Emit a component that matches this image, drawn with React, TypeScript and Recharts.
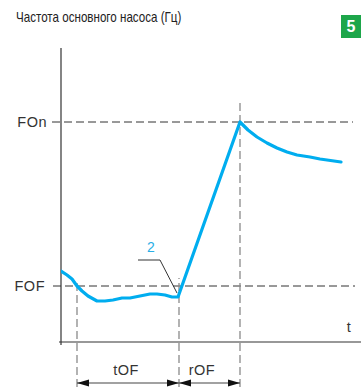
import React from "react";
import { LineChart, Line, XAxis, YAxis, ReferenceLine, ReferenceDot } from "recharts";

// time (px units from the y axis) and pump frequency
const time = [0, 6, 11, 16, 21, 27, 36, 44, 52, 61, 69, 79, 89, 96, 104, 111, 117, 179, 187, 196, 206, 216, 226, 236, 249, 259, 280];
const freq = [71, 67, 63, 56, 51, 46, 41, 41, 42, 44, 44, 46, 48, 48, 47, 45, 45, 220, 212, 205, 199, 194, 190, 187, 185, 183, 180];

const FOF = 56;
const FON = 220;
const T_START = 16; // start of tOF
const T_MIN = 118; // end of tOF / start of rOF
const T_PEAK = 179; // end of rOF

const title = "Частота основного насоса (Гц)";
const badge = "5";

const data = time.map((t, i) => ({ t, f: freq[i] }));

const BLUE = "#00adef";
const DARK = "#333333";
const GRAY = "#8a8a8a";
const FONT = "'Liberation Sans', Arial, sans-serif";

const ArrowLine = (props: any) => {
  const { x1, y1, x2 } = props;
  const len = 12;
  const hw = 3.5;
  return (
    <g>
      <line x1={x1} y1={y1} x2={x2} y2={y1} stroke="#444" strokeWidth={1.2} />
      <polygon points={`${x1},${y1} ${x1 + len},${y1 - hw} ${x1 + len},${y1 + hw}`} fill="#111" />
      <polygon points={`${x2},${y1} ${x2 - len},${y1 - hw} ${x2 - len},${y1 + hw}`} fill="#111" />
    </g>
  );
};

const txt = { fill: DARK, fontSize: 14.5, fontFamily: FONT, letterSpacing: 0.5 };

export default function App() {
  return (
    <div style={{ position: "absolute", left: 0, top: 0, width: 363, height: 387, background: "#fff" }}>
      <div
        style={{
          position: "absolute",
          left: 16,
          top: 9,
          fontFamily: FONT,
          fontSize: 14.5,
          color: "#222",
          whiteSpace: "nowrap",
          transform: "scaleX(0.8)",
          transformOrigin: "left top",
        }}
      >
        {title}
      </div>
      <div
        style={{
          position: "absolute",
          left: 341,
          top: 15,
          width: 20,
          height: 23,
          background: "#1da64a",
          color: "#fff",
          fontFamily: FONT,
          fontWeight: 700,
          fontSize: 16,
          lineHeight: "23px",
          textAlign: "center",
        }}
      >
        {badge}
      </div>
      <LineChart
        width={363}
        height={387}
        data={data}
        margin={{ top: 48, right: 2, bottom: 45, left: 61 }}
        style={{ position: "absolute", left: 0, top: 0 }}
      >
        <XAxis dataKey="t" type="number" domain={[0, 300]} hide allowDataOverflow />
        <YAxis type="number" domain={[0, 294]} hide allowDataOverflow />

        {/* axes */}
        <ReferenceLine segment={[{ x: 0, y: -3 }, { x: 0, y: 294 }]} stroke={DARK} strokeWidth={1.2} ifOverflow="visible" />
        <ReferenceLine segment={[{ x: -2, y: 0 }, { x: 300, y: 0 }]} stroke={DARK} strokeWidth={1.2} ifOverflow="visible" />

        {/* guide lines */}
        <ReferenceLine
          segment={[{ x: -9, y: FON }, { x: 292, y: FON }]}
          stroke={DARK}
          strokeDasharray="8 4"
          ifOverflow="visible"
          label={{ value: "FOn", position: "left", offset: 5, ...txt }}
        />
        <ReferenceLine
          segment={[{ x: -8, y: FOF }, { x: 294, y: FOF }]}
          stroke={DARK}
          strokeDasharray="8 4"
          ifOverflow="visible"
          label={{ value: "FOF", position: "left", offset: 8, ...txt }}
        />
        <ReferenceLine segment={[{ x: T_START, y: -45 }, { x: T_START, y: 62 }]} stroke={GRAY} strokeWidth={1.3} strokeDasharray="8 4" ifOverflow="visible" />
        <ReferenceLine segment={[{ x: T_MIN, y: -45 }, { x: T_MIN, y: 64 }]} stroke={GRAY} strokeWidth={1.3} strokeDasharray="8 4" ifOverflow="visible" />
        <ReferenceLine segment={[{ x: T_PEAK, y: -45 }, { x: T_PEAK, y: 239 }]} stroke={GRAY} strokeWidth={1.3} strokeDasharray="8 4" ifOverflow="visible" />

        {/* duration arrows */}
        <ReferenceLine segment={[{ x: T_START, y: -41 }, { x: T_MIN, y: -41 }]} shape={ArrowLine} ifOverflow="visible" />
        <ReferenceLine segment={[{ x: T_MIN, y: -41 }, { x: T_PEAK, y: -41 }]} shape={ArrowLine} ifOverflow="visible" />
        <ReferenceDot x={65} y={-28} r={0} ifOverflow="visible" label={{ value: "tOF", position: "center", ...txt }} />
        <ReferenceDot x={141} y={-28} r={0} ifOverflow="visible" label={{ value: "rOF", position: "center", ...txt }} />
        <ReferenceDot x={288} y={15} r={0} ifOverflow="visible" label={{ value: "t", position: "center", ...txt }} />

        {/* callout 2 */}
        <ReferenceLine segment={[{ x: 77, y: 82 }, { x: 99, y: 82 }]} stroke={DARK} strokeWidth={1} ifOverflow="visible" />
        <ReferenceLine segment={[{ x: 99, y: 82 }, { x: 116, y: 49 }]} stroke={DARK} strokeWidth={1} ifOverflow="visible" />
        <ReferenceDot
          x={90}
          y={95}
          r={0}
          ifOverflow="visible"
          label={{ value: "2", position: "center", fill: "#29aee6", fontSize: 14, fontFamily: FONT }}
        />

        <Line
          dataKey="f"
          type="linear"
          stroke={BLUE}
          strokeWidth={3.2}
          dot={false}
          strokeLinejoin="round"
          strokeLinecap="round"
          isAnimationActive={false}
        />
      </LineChart>
    </div>
  );
}
